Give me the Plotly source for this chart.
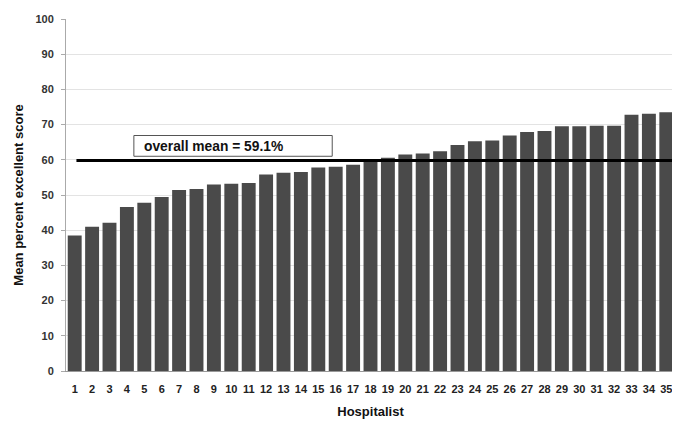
import plotly.graph_objects as go

hospitalists = list(range(1, 36))
scores = [38.5, 41.0, 42.1, 46.6, 47.8, 49.4, 51.4, 51.7, 53.0, 53.2,
          53.4, 55.8, 56.3, 56.5, 57.8, 58.0, 58.6, 59.8, 60.6, 61.5,
          61.8, 62.4, 64.2, 65.3, 65.5, 66.9, 67.9, 68.2, 69.5, 69.5,
          69.7, 69.7, 72.8, 73.1, 73.5]
mean_line = 59.8
mean_label = "overall mean = 59.1%"
y_ticks = list(range(0, 101, 10))

font_family = "Liberation Sans, Arial, sans-serif"

fig = go.Figure()
fig.add_trace(go.Bar(
    x=hospitalists, y=scores,
    marker=dict(color="#4a4a4a", line=dict(width=0)),
    showlegend=False,
))

fig.add_shape(type="line", xref="x", yref="y",
              x0=1.1, x1=35.5, y0=mean_line, y1=mean_line,
              line=dict(color="#000000", width=3))
fig.add_shape(type="rect", xref="x", yref="y",
              x0=4.4, x1=15.8, y0=61.0, y1=66.9,
              line=dict(color="#555555", width=1), fillcolor="white")
fig.add_annotation(x=9.0, y=63.9, xref="x", yref="y", text="<b>" + mean_label + "</b>",
                   showarrow=False, font=dict(family=font_family, size=13.8, color="#111111"))

fig.update_layout(
    width=672, height=413,
    margin=dict(l=58, r=5, t=8, b=49),
    plot_bgcolor="white", paper_bgcolor="white",
    bargap=0.2,
    font=dict(family=font_family, color="#222222"),
    xaxis=dict(
        range=[0.5, 35.5], tickmode="array", tickvals=hospitalists,
        ticktext=["<b>%d</b>" % h for h in hospitalists],
        tickfont=dict(size=11, color="#222222"),
        ticklabelstandoff=8,
        showgrid=False, showline=True, linecolor="#999999", linewidth=1,
        ticks="", zeroline=False,
        title=dict(text="<b>Hospitalist</b>", font=dict(size=13, color="#111111"), standoff=12),
    ),
    yaxis=dict(
        range=[0, 100], tickmode="array", tickvals=y_ticks,
        ticktext=["<b>%d</b>" % t for t in y_ticks],
        tickfont=dict(size=11, color="#333333"),
        ticklabelstandoff=5,
        showgrid=True, gridcolor="#e3e3e3", gridwidth=1,
        showline=True, linecolor="#aaaaaa", linewidth=1,
        ticks="outside", ticklen=4, tickcolor="#aaaaaa",
        zeroline=False,
        title=dict(text="<b>Mean percent excellent score</b>", font=dict(size=13, color="#111111"), standoff=8),
    ),
)

fig.write_html("out.html")
